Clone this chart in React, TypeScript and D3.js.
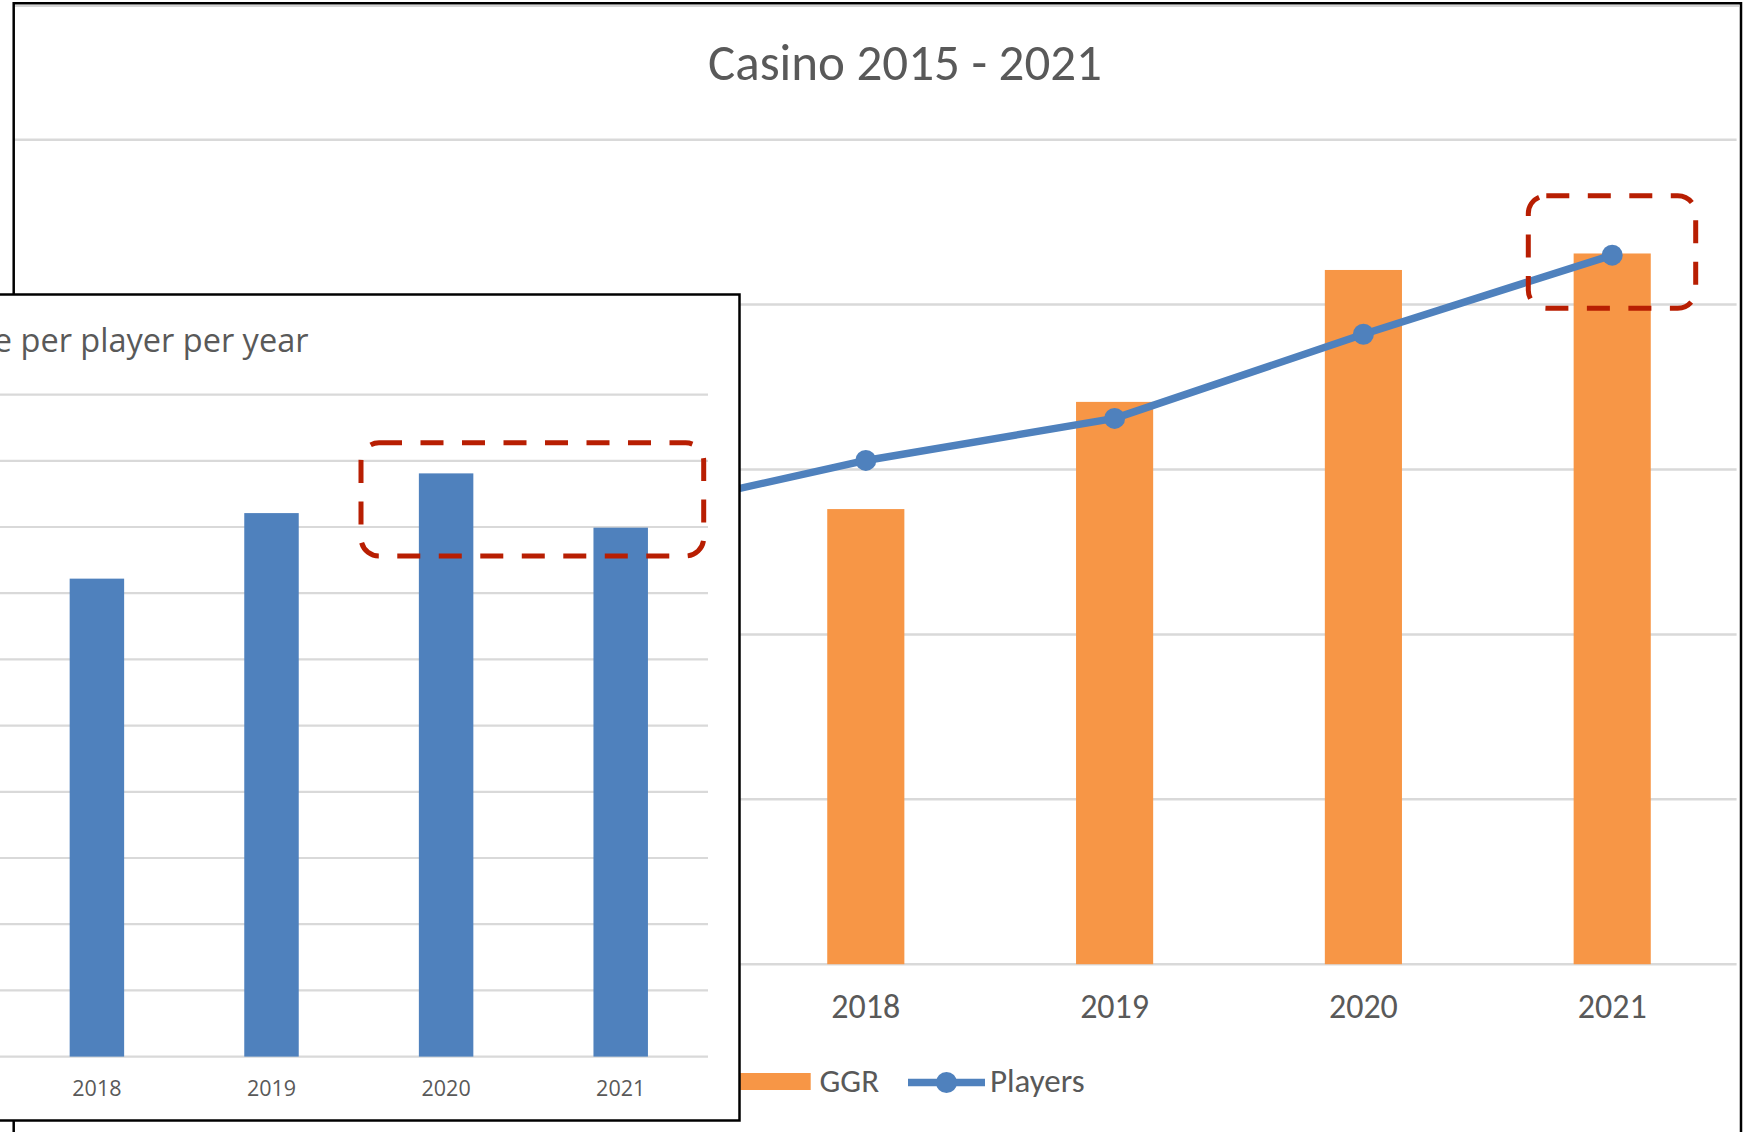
import React from "react";
import * as d3 from "d3";

// main chart: Casino 2015 - 2021
const years = ["2015", "2016", "2017", "2018", "2019", "2020", "2021"];
const ggr = [190, 215, 240, 276, 341, 421, 431];
const players = [225, 250, 272, 305.5, 331, 382, 430];
const mainTicks = [0, 100, 200, 300, 400, 500];

// inset chart: revenue per player per year
const insetYears = ["2018", "2019", "2020", "2021"];
const perPlayer = [722, 821, 881, 799];
const insetTicks = [0, 100, 200, 300, 400, 500, 600, 700, 800, 900, 1000];

const W = 1752;
const H = 1132;
const ORANGE = "#F79646";
const BLUE = "#4F81BD";
const GRID = "#D9D9D9";
const TEXT = "#595959";
const RED = "#B81E02";
const mainFont = "Carlito, 'Liberation Sans', Arial, sans-serif";
const insetFont = "'Open Sans', 'Noto Sans', sans-serif";

const App: React.FC = () => {
  // main scales
  const plotRight = 1736.6;
  const step = 248.8;
  const x = d3
    .scaleBand<string>()
    .domain(years)
    .range([plotRight - step * years.length, plotRight])
    .paddingInner(0.69)
    .paddingOuter(0.345);
  const y = d3.scaleLinear().domain([0, 500]).range([964.2, 139.7]);
  const yPlayers = d3.scaleLinear().domain([0, 500]).range([964.2, 139.7]);
  const cx = (d: string) => x(d)! + x.bandwidth() / 2;

  const line = d3
    .line<number>()
    .x((_, i) => cx(years[i]))
    .y((d) => yPlayers(d));

  // inset scales
  const insetRight = 708;
  const insetStep = 174.6;
  const xi = d3
    .scaleBand<string>()
    .domain(insetYears)
    .range([insetRight - insetStep * insetYears.length, insetRight])
    .paddingInner(0.688)
    .paddingOuter(0.344);
  const yi = d3.scaleLinear().domain([0, 1000]).range([1056.6, 394.6]);

  return (
    <svg
      width={W}
      height={H}
      style={{ position: "absolute", left: 0, top: 0, background: "#fff" }}
    >
      <defs>
        <clipPath id="mainClip">
          <rect x={13} y={3} width={1728} height={H} />
        </clipPath>
      </defs>
      <rect x={0} y={0} width={W} height={H} fill="#fff" />

      {/* main chart */}
      <g clipPath="url(#mainClip)">
        <line x1={15} x2={1739} y1={6} y2={6} stroke="#d6d6d6" strokeWidth={2} />
        <text
          x={905}
          y={80}
          textAnchor="middle"
          fontFamily={mainFont}
          fontSize={51}
          fill={TEXT}
        >
          Casino 2015 - 2021
        </text>
        {mainTicks.map((t) => (
          <line
            key={t}
            x1={14}
            x2={plotRight}
            y1={y(t)}
            y2={y(t)}
            stroke={GRID}
            strokeWidth={2.5}
          />
        ))}
        {years.map((yr, i) => (
          <rect
            key={yr}
            x={x(yr)}
            y={y(ggr[i])}
            width={x.bandwidth()}
            height={y(0) - y(ggr[i])}
            fill={ORANGE}
          />
        ))}
        <path
          d={line(players) || ""}
          fill="none"
          stroke={BLUE}
          strokeWidth={7.5}
          strokeLinejoin="round"
        />
        {years.map((yr, i) => (
          <circle key={yr} cx={cx(yr)} cy={yPlayers(players[i])} r={10.5} fill={BLUE} />
        ))}
        {years.map((yr) => (
          <text
            key={yr}
            x={cx(yr)}
            y={1018}
            textAnchor="middle"
            fontFamily={mainFont}
            fontSize={34}
            fill={TEXT}
          >
            {yr}
          </text>
        ))}
        {/* legend */}
        <rect x={700} y={1073} width={110.7} height={17} fill={ORANGE} />
        <text x={819.5} y={1092} fontFamily={mainFont} fontSize={33} fill={TEXT}>
          GGR
        </text>
        <line x1={908} x2={985} y1={1082.5} y2={1082.5} stroke={BLUE} strokeWidth={7.5} />
        <circle cx={946.5} cy={1082.5} r={10.5} fill={BLUE} />
        <text x={990} y={1092} fontFamily={mainFont} fontSize={33} fill={TEXT}>
          Players
        </text>
      </g>
      <path
        d={`M13.7,${H} V3.3 H1741 V${H}`}
        fill="none"
        stroke="#000"
        strokeWidth={2.5}
      />

      {/* highlight on main chart */}
      <rect
        x={1528.3}
        y={195.7}
        width={167.4}
        height={112.6}
        rx={18}
        fill="none"
        stroke={RED}
        strokeWidth={5}
        strokeDasharray="23 18.5"
      />

      {/* inset chart */}
      <g>
        <rect x={-10} y={294} width={749.5} height={826.5} fill="#fff" />
        {insetTicks.map((t) => (
          <line
            key={t}
            x1={0}
            x2={insetRight}
            y1={yi(t)}
            y2={yi(t)}
            stroke={GRID}
            strokeWidth={2.2}
          />
        ))}
        {insetYears.map((yr, i) => (
          <rect
            key={yr}
            x={xi(yr)}
            y={yi(perPlayer[i])}
            width={xi.bandwidth()}
            height={yi(0) - yi(perPlayer[i])}
            fill={BLUE}
          />
        ))}
        {insetYears.map((yr) => (
          <text
            key={yr}
            x={xi(yr)! + xi.bandwidth() / 2}
            y={1096}
            textAnchor="middle"
            fontFamily={insetFont}
            fontSize={21.5}
            fill={TEXT}
          >
            {yr}
          </text>
        ))}
        <text
          x={308.5}
          y={351.7}
          textAnchor="end"
          fontFamily={insetFont}
          fontSize={32.5}
          fill={TEXT}
        >
          e per player per year
        </text>
        <path
          d="M-10,294.5 H739.5 V1120.5 H-10"
          fill="none"
          stroke="#000"
          strokeWidth={2.5}
        />
      </g>

      {/* highlight on inset */}
      <rect
        x={361}
        y={442.8}
        width={342.7}
        height={113.2}
        rx={18}
        fill="none"
        stroke={RED}
        strokeWidth={5}
        strokeDasharray="23 18.5"
      />
    </svg>
  );
};

export default App;
